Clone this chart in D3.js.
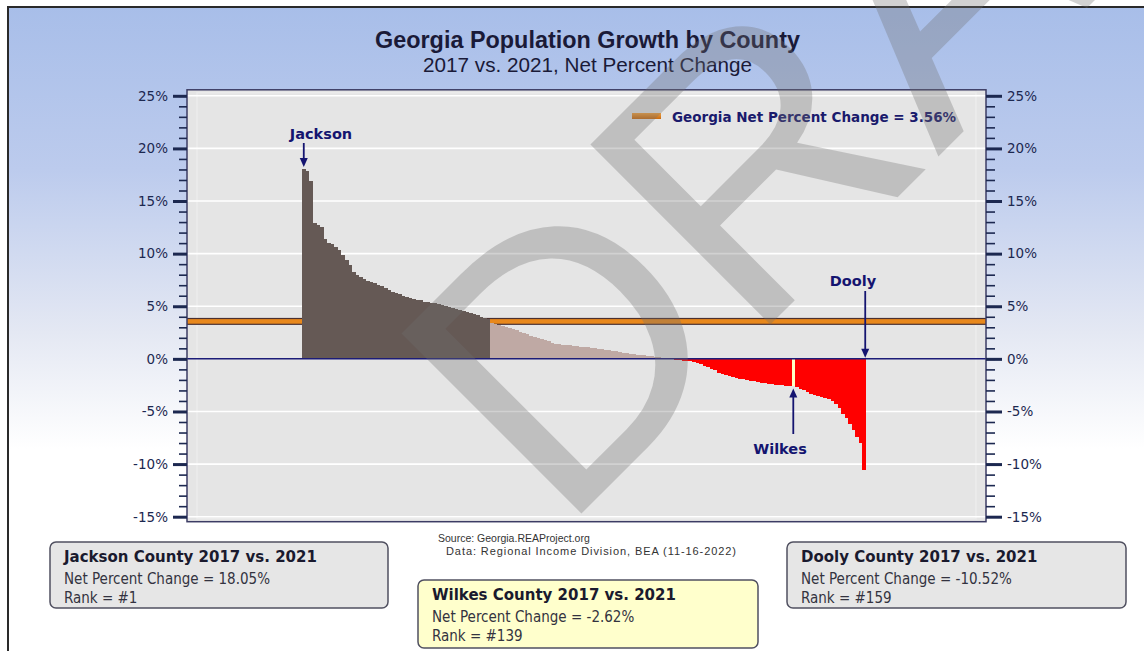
<!DOCTYPE html>
<html><head><meta charset="utf-8">
<script src="https://cdn.jsdelivr.net/npm/d3@7"></script>
<style>html,body{margin:0;padding:0;background:#fff;}svg{display:block;}</style>
</head><body>
<svg id="chart" width="1144" height="651"></svg>
<script>
// ---------- data ----------
const ranks = d3.range(1, 160); // county rank 1..159
const values = [
  18.05, 17.9, 16.9, 12.9, 12.7, 12.5, 11.4, 11.0, 10.9, 10.6,
  10.3, 9.9, 9.4, 8.9, 8.3, 8.0, 7.8, 7.6,
  7.4, 7.3, 7.2, 7.0, 6.9, 6.7, 6.5, 6.4,
  6.3, 6.2, 6.0, 5.9, 5.8, 5.7, 5.6, 5.55,
  5.45, 5.4, 5.35, 5.3, 5.25, 5.15, 5.05, 4.95, 4.85, 4.75,
  4.65, 4.55, 4.45, 4.35, 4.25, 4.15, 4.0, 3.9, 3.75,
  3.4, 3.3, 3.2, 3.1, 3.0, 2.9, 2.8, 2.7, 2.55,
  2.45, 2.35, 2.2, 2.1, 2.0, 1.9, 1.8, 1.7, 1.55, 1.45,
  1.4, 1.35, 1.3, 1.28, 1.25, 1.2, 1.17, 1.13, 1.1,
  1.05, 1.0, 0.95, 0.9, 0.85, 0.8, 0.75, 0.7, 0.65,
  0.6, 0.55, 0.5, 0.45, 0.4, 0.35, 0.32, 0.3,
  0.25, 0.2, 0.15, 0.12, 0.08, 0.04,
  -0.05, -0.1, -0.15, -0.2, -0.22, -0.25, -0.3,
  -0.4, -0.5, -0.65, -0.8, -0.95, -1.1,
  -1.3, -1.4, -1.5, -1.6, -1.7, -1.8,
  -1.9, -1.95, -2.0, -2.1, -2.15, -2.2, -2.3,
  -2.32, -2.35, -2.4, -2.45, -2.5, -2.52, -2.55, -2.58,
  -2.62,
  -2.7, -2.85, -3.0, -3.15, -3.3,
  -3.4, -3.5, -3.6, -3.75, -3.85, -4.0,
  -4.3, -4.7, -5.2,
  -5.6, -6.2, -6.8,
  -7.4, -8.0,
  -10.52
];
const georgiaChange = 3.56;
const yMajorTicks = [-15, -10, -5, 0, 5, 10, 15, 20, 25];
const yMinorTicks = d3.range(-15, 26, 1);
const highlightNames = ["Jackson", "Wilkes", "Dooly"];
const highlightRanks = [1, 139, 159];
const highlightValues = ["18.05%", "-2.62%", "-10.52%"];
const titleText = "Georgia Population Growth by County";
const subtitleText = "2017 vs. 2021, Net Percent Change";
const legendText = "Georgia Net Percent Change = 3.56%";
const sourceLines = ["Source: Georgia.REAProject.org", "Data: Regional Income Division, BEA (11-16-2022)"];

// ---------- drawing ----------
const svg = d3.select("#chart");
const defs = svg.append("defs");
const bg = defs.append("linearGradient").attr("id", "bg").attr("x1", 0).attr("y1", 0).attr("x2", 0).attr("y2", 1);
[[0, "#a8bee9"], [0.25, "#bccbed"], [0.5, "#e4e8f3"], [0.68, "#ffffff"], [1, "#ffffff"]]
  .forEach(s => bg.append("stop").attr("offset", s[0]).attr("stop-color", s[1]));
const lg = defs.append("linearGradient").attr("id", "lg").attr("x1", 0).attr("y1", 0).attr("x2", 0).attr("y2", 1);
[[0, "#f0a040"], [1, "#c86a10"]].forEach(s => lg.append("stop").attr("offset", s[0]).attr("stop-color", s[1]));

svg.append("rect").attr("x", 8).attr("y", 7).attr("width", 1140).attr("height", 650)
  .attr("fill", "url(#bg)").attr("stroke", "#2a2a2a").attr("stroke-width", 2);

const plotL = 187, plotR = 986;
const y = d3.scaleLinear().domain([-15, 25]).range([516.7, 95.8]);
const x = d3.scaleBand().domain(ranks).range([302, 866]).paddingInner(0);
const bw = x.bandwidth();
const plotT = y(25) - 6, plotB = y(-15) + 5;

// plot area
svg.append("rect").attr("x", plotL).attr("y", plotT).attr("width", plotR - plotL).attr("height", plotB - plotT)
  .attr("fill", "#e5e5e5");
svg.append("rect").attr("x", plotL + 10).attr("y", plotT + 3).attr("width", plotR - plotL - 20).attr("height", plotB - plotT - 6)
  .attr("fill", "none").attr("stroke", "#ececec").attr("stroke-width", 1.5);

// gridlines
svg.append("g").selectAll("line").data(yMajorTicks.filter(d => d !== 0)).join("line")
  .attr("x1", plotL).attr("x2", plotR).attr("y1", d => y(d)).attr("y2", d => y(d))
  .attr("stroke", "#ffffff").attr("stroke-width", 1.6);

// Georgia average band
svg.append("rect").attr("x", plotL).attr("width", plotR - plotL)
  .attr("y", y(georgiaChange) - 3.5).attr("height", 7).attr("fill", "#4a3030");
svg.append("rect").attr("x", plotL).attr("width", plotR - plotL)
  .attr("y", y(georgiaChange) - 2.3).attr("height", 4.6).attr("fill", "#e8881c");

// bars
const barColor = (v, r) => r === 139 ? "#ffffc4" : v >= georgiaChange ? "#655955" : v >= 0 ? "#bfa9a4" : "#ff0000";
svg.append("g").selectAll("rect").data(ranks).join("rect")
  .attr("x", r => x(r))
  .attr("width", bw + 0.4)
  .attr("y", (r, i) => y(Math.max(0, values[i])))
  .attr("height", (r, i) => Math.abs(y(values[i]) - y(0)))
  .attr("fill", (r, i) => barColor(values[i], r))
  .attr("shape-rendering", "crispEdges");

// zero line
svg.append("line").attr("x1", plotL).attr("x2", plotR).attr("y1", y(0)).attr("y2", y(0))
  .attr("stroke", "#1c1c78").attr("stroke-width", 1.5);

// plot border
svg.append("rect").attr("x", plotL).attr("y", plotT).attr("width", plotR - plotL).attr("height", plotB - plotT)
  .attr("fill", "none").attr("stroke", "#3c3c64").attr("stroke-width", 1.5);

// axes
const tickFont = "'DejaVu Sans', Verdana, sans-serif";
function styleAxis(g) {
  g.select(".domain").remove();
  g.selectAll("line").attr("stroke", "#1c2850");
  g.selectAll("text").attr("fill", "#1c2850").style("font-family", tickFont).style("font-size", "13.5px");
}
const fmt = d => d + "%";
svg.append("g").attr("transform", `translate(${plotL},0)`)
  .call(d3.axisLeft(y).tickValues(yMinorTicks).tickSize(8).tickFormat(""))
  .call(g => { g.select(".domain").remove(); g.selectAll("line").attr("stroke", "#1c2850").attr("stroke-width", 1.6); });
svg.append("g").attr("transform", `translate(${plotL},0)`)
  .call(d3.axisLeft(y).tickValues(yMajorTicks).tickSize(14).tickPadding(5).tickFormat(fmt))
  .call(styleAxis).call(g => g.selectAll("line").attr("stroke-width", 3));
svg.append("g").attr("transform", `translate(${plotR},0)`)
  .call(d3.axisRight(y).tickValues(yMinorTicks).tickSize(9).tickFormat(""))
  .call(g => { g.select(".domain").remove(); g.selectAll("line").attr("stroke", "#1c2850").attr("stroke-width", 1.6); });
svg.append("g").attr("transform", `translate(${plotR},0)`)
  .call(d3.axisRight(y).tickValues(yMajorTicks).tickSize(16).tickPadding(5).tickFormat(fmt))
  .call(styleAxis).call(g => g.selectAll("line").attr("stroke-width", 3));

// titles
const midX = (plotL + plotR) / 2 + 1;
svg.append("text").attr("x", midX).attr("y", 48).attr("text-anchor", "middle")
  .style("font-family", "'Liberation Sans', Arial, sans-serif").style("font-weight", "bold").style("font-size", "23.4px")
  .attr("fill", "#1a1a38").text(titleText);
svg.append("text").attr("x", midX).attr("y", 71.5).attr("text-anchor", "middle")
  .style("font-family", "'Liberation Sans', Arial, sans-serif").style("font-size", "20.7px")
  .attr("fill", "#1a1a38").text(subtitleText);

// legend
svg.append("rect").attr("x", 632).attr("y", 113).attr("width", 29).attr("height", 6).attr("fill", "url(#lg)");
svg.append("text").attr("x", 672).attr("y", 122)
  .style("font-family", tickFont).style("font-weight", "bold").style("font-size", "13.5px")
  .attr("fill", "#1a1a6c").text(legendText);

// annotations
const annFont = "'DejaVu Sans', Verdana, sans-serif";
const navy = "#141470";
function arrow(xp, y1, y2) {
  const dir = y2 > y1 ? 1 : -1;
  svg.append("line").attr("x1", xp).attr("x2", xp).attr("y1", y1).attr("y2", y2 - dir * 7)
    .attr("stroke", navy).attr("stroke-width", 1.8);
  svg.append("path").attr("d", `M${xp - 4},${y2 - dir * 9}L${xp + 4},${y2 - dir * 9}L${xp},${y2}Z`).attr("fill", navy);
}
const cx = r => x(r) + bw / 2;
svg.append("text").attr("x", 321).attr("y", 139).attr("text-anchor", "middle")
  .style("font-family", annFont).style("font-weight", "bold").style("font-size", "14.5px").attr("fill", navy).text(highlightNames[0]);
arrow(cx(highlightRanks[0]), 143, y(values[highlightRanks[0] - 1]) - 2);
svg.append("text").attr("x", 853).attr("y", 286).attr("text-anchor", "middle")
  .style("font-family", annFont).style("font-weight", "bold").style("font-size", "14.5px").attr("fill", navy).text(highlightNames[2]);
arrow(cx(highlightRanks[2]) + 1, 291, y(0) - 1);
svg.append("text").attr("x", 780).attr("y", 454).attr("text-anchor", "middle")
  .style("font-family", annFont).style("font-weight", "bold").style("font-size", "14.5px").attr("fill", navy).text(highlightNames[1]);
arrow(cx(highlightRanks[1]), 434, y(values[highlightRanks[1] - 1]) + 2);

// source
svg.append("text").attr("x", 438).attr("y", 542)
  .style("font-family", "'Liberation Sans', Arial, sans-serif").style("font-size", "10.5px").attr("fill", "#333").text(sourceLines[0]);
svg.append("text").attr("x", 446).attr("y", 555)
  .attr("textLength", 290).attr("lengthAdjust", "spacing")
  .style("font-family", "'Liberation Sans', Arial, sans-serif").style("font-size", "11px").attr("fill", "#333").text(sourceLines[1]);

// info boxes
const boxTitleFont = "'DejaVu Sans', sans-serif";
const boxFont = "'DejaVu Sans Condensed', 'DejaVu Sans', sans-serif";
const boxes = [
  {x: 50, y: 542, w: 338, h: 66, fill: "#e6e6e6", i: 0},
  {x: 418, y: 580, w: 340, h: 68, fill: "#ffffcc", i: 1},
  {x: 787, y: 542, w: 339, h: 66, fill: "#e6e6e6", i: 2}
];
boxes.forEach(b => {
  const g = svg.append("g").attr("transform", `translate(${b.x},${b.y})`);
  g.append("rect").attr("width", b.w).attr("height", b.h).attr("rx", 6).attr("ry", 6)
    .attr("fill", b.fill).attr("stroke", "#505060").attr("stroke-width", 1.5);
  g.append("text").attr("x", 14).attr("y", 19.5).style("font-family", boxTitleFont).style("font-weight", "bold")
    .style("font-size", "15px").attr("fill", "#1a1a2e").text(`${highlightNames[b.i]} County 2017 vs. 2021`);
  g.append("text").attr("x", 14).attr("y", 41.5).style("font-family", boxFont)
    .style("font-size", "15px").attr("fill", "#333340").text(`Net Percent Change = ${highlightValues[b.i]}`);
  g.append("text").attr("x", 14).attr("y", 60.5).style("font-family", boxFont)
    .style("font-size", "15px").attr("fill", "#333340").text(`Rank = #${highlightRanks[b.i]}`);
});

// watermark
svg.append("text").attr("transform", "translate(560,535) rotate(-45)")
  .style("font-family", "'Liberation Sans', Arial, sans-serif").style("font-size", "370px")
  .attr("fill", "#707070").attr("fill-opacity", 0.32).text("DRAFT");
</script>
</body></html>
